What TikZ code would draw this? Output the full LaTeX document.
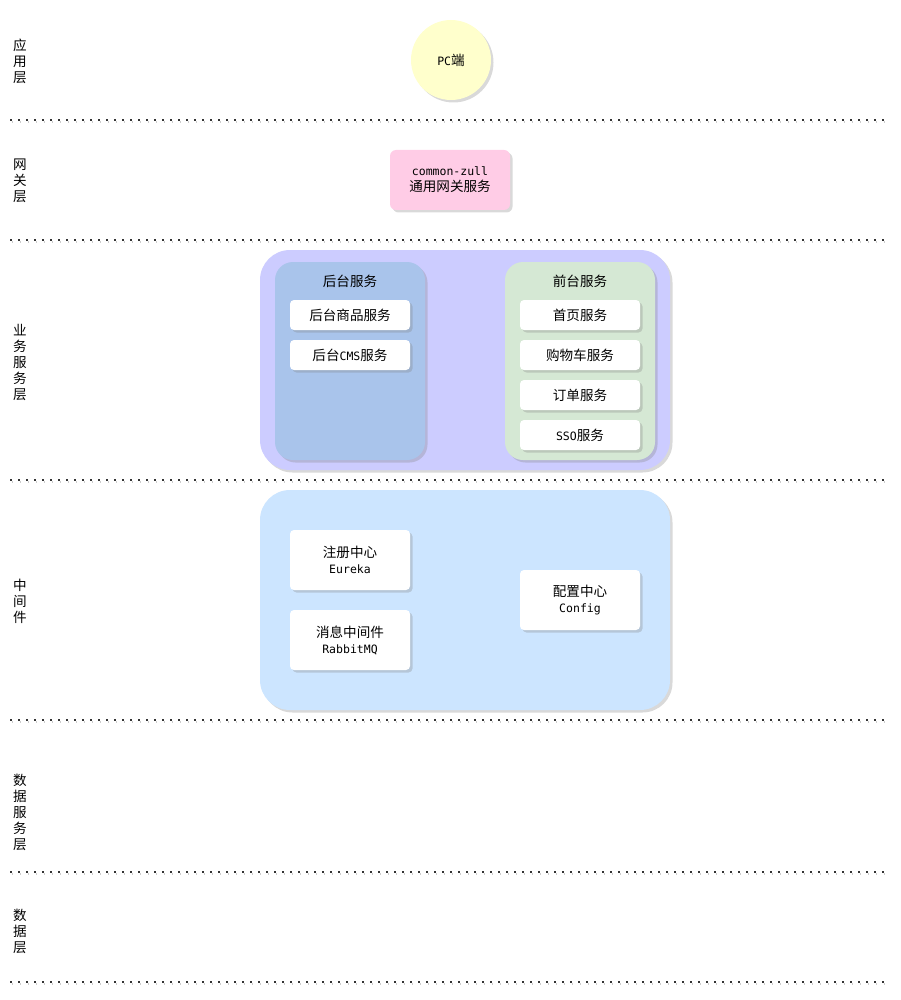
\documentclass[tikz,border=0pt]{standalone}
\usepackage{fontspec}
\setmainfont{DejaVu Sans Mono}
\newfontfamily\cjk[Scale=1.18]{Noto Sans CJK SC}
\newcommand{\zh}[1]{{\cjk #1}}
\usetikzlibrary{shadows}

\definecolor{pcyellow}{HTML}{FFFFCC}
\definecolor{zuulpink}{HTML}{FFCCE6}
\definecolor{bizpurple}{HTML}{CCCCFF}
\definecolor{backblue}{HTML}{A9C4EB}
\definecolor{frontgreen}{HTML}{D5E8D4}
\definecolor{midblue}{HTML}{CCE5FF}

\tikzset{
	shade3/.style={drop shadow={shadow xshift=2.5pt,shadow yshift=-2.5pt,opacity=0.3}},
	svcbox/.style={fill=white, rounded corners=4pt, minimum width=120pt, minimum height=30pt, inner sep=0pt, align=center, shade3},
	midbox/.style={svcbox, minimum height=60pt},
	groupbox/.style={rounded corners=18pt, minimum width=150pt, minimum height=198pt, inner sep=0pt, shade3},
	layerbox/.style={rounded corners=30pt, minimum width=410pt, minimum height=220pt, inner sep=0pt, shade3},
	layername/.style={align=center, font=\fontsize{11.5}{16}\selectfont},
	dotline/.style={line width=1.5pt, dash pattern=on 1.5pt off 6.5pt, black!80},
	dotshade/.style={line width=1.5pt, dash pattern=on 1.5pt off 6.5pt, black!20}
}

\begin{document}
\begin{tikzpicture}[x=1pt, y=-1pt, font=\fontsize{11.5}{16}\selectfont]
	\useasboundingbox (0,0) rectangle (900,1000);

	% layer separators
	\foreach \y in {120,240,480,720,872,982} {
		\draw[dotshade] (11.5,\y+2) -- (887.5,\y+2);
		\draw[dotline] (10,\y) -- (886,\y);
	}

	% layer names
	\node[layername] (appname) at (20,61) {\zh{应}\\\zh{用}\\\zh{层}};
	\node[layername] (gatename) at (20,181) {\zh{网}\\\zh{关}\\\zh{层}};
	\node[layername] (bizname) at (20,362) {\zh{业}\\\zh{务}\\\zh{服}\\\zh{务}\\\zh{层}};
	\node[layername] (midname) at (20,601) {\zh{中}\\\zh{间}\\\zh{件}};
	\node[layername] (dsname) at (20,812) {\zh{数}\\\zh{据}\\\zh{服}\\\zh{务}\\\zh{层}};
	\node[layername] (dataname) at (20,931) {\zh{数}\\\zh{据}\\\zh{层}};

	% application layer
	\node[circle, fill=pcyellow, minimum size=80pt, inner sep=0pt, shade3] (pc) at (451,60) {PC\zh{端}};

	% gateway layer
	\node[svcbox, fill=zuulpink, rounded corners=6pt, minimum height=60pt] (zuul) at (450,180) {common-zull\\\zh{通用网关服务}};

	% business layer
	\node[layerbox, fill=bizpurple] (biz) at (465,360) {};
	\node[groupbox, fill=backblue] (back) at (350,361) {};
	\node[groupbox, fill=frontgreen] (front) at (580,361) {};
	\node (backtitle) at (350,281) {\zh{后台服务}};
	\node (fronttitle) at (580,281) {\zh{前台服务}};
	\node[svcbox] (goods) at (350,315) {\zh{后台商品服务}};
	\node[svcbox] (cms) at (350,355) {\zh{后台}CMS\zh{服务}};
	\node[svcbox] (home) at (580,315) {\zh{首页服务}};
	\node[svcbox] (cart) at (580,355) {\zh{购物车服务}};
	\node[svcbox] (order) at (580,395) {\zh{订单服务}};
	\node[svcbox] (sso) at (580,435) {SSO\zh{服务}};

	% middleware layer
	\node[layerbox, fill=midblue] (mid) at (465,600) {};
	\node[midbox] (eureka) at (350,560) {\zh{注册中心}\\Eureka};
	\node[midbox] (mq) at (350,640) {\zh{消息中间件}\\RabbitMQ};
	\node[midbox] (config) at (580,600) {\zh{配置中心}\\Config};
\end{tikzpicture}
\end{document}
